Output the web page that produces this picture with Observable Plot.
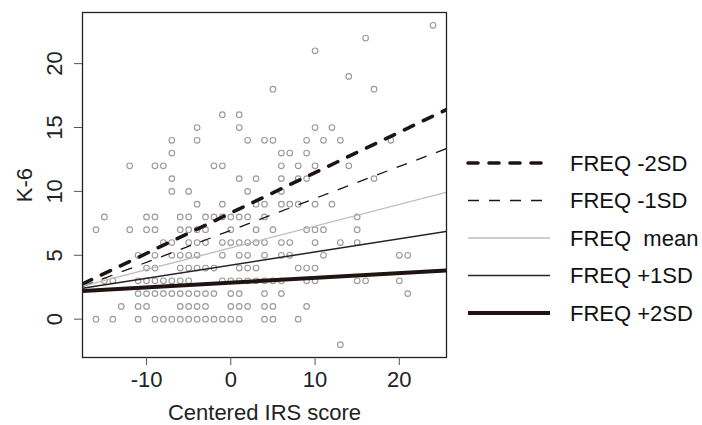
<!DOCTYPE html>
<html>
<head>
<meta charset="utf-8">
<script src="https://cdn.jsdelivr.net/npm/d3@7"></script>
<script src="https://cdn.jsdelivr.net/npm/@observablehq/plot@0.6"></script>
<style>
  body { margin: 0; background: #fff; }
  #chart { width: 702px; height: 425px; }
</style>
</head>
<body>
<div id="chart"></div>
<script>
// K-6 score levels (rows) and the centered IRS scores observed at each level
const k6Levels = [23, 22, 21, 19, 18, 16, 15, 14, 13, 12, 11, 10, 9, 8, 7, 6, 5, 4, 3, 2, 1, 0, -2];
const irsAtLevel = [
  [24],
  [16],
  [10],
  [14],
  [5, 17],
  [-1, 1],
  [-4, 1, 10, 12],
  [-7, -4, 2, 4, 5, 9, 11, 13, 19],
  [-7, 6, 7, 9],
  [-12, -9, -8, -2, -1, 6, 8, 10, 14],
  [-7, 1, 3, 6, 8, 9, 17],
  [-7, -5, 2, 6],
  [-4, -1, 3, 4, 6, 7, 8, 10, 12],
  [-15, -10, -9, -6, -5, -3, -2, -1, 0, 1, 2, 4, 15],
  [-16, -12, -10, -9, -6, -5, -4, -3, 0, 3, 5, 9, 10, 11, 15],
  [-8, -7, -5, -4, -3, -1, 0, 1, 2, 3, 4, 6, 7, 10, 13, 15],
  [-11, -9, -7, -6, -5, -4, -1, 1, 2, 4, 6, 7, 11, 20, 21],
  [-10, -9, -6, -5, -4, -3, -2, 1, 2, 3, 8, 9, 10],
  [-15, -14, -11, -10, -9, -8, -7, -6, -5, -1, 0, 1, 2, 3, 4, 5, 6, 9, 10, 15, 16, 20],
  [-11, -10, -9, -8, -7, -6, -5, -4, -3, -2, 0, 1, 4, 6, 21],
  [-13, -11, -10, -6, -5, -4, -3, 0, 1, 2, 4, 5, 9],
  [-16, -14, -11, -9, -8, -7, -6, -5, -4, -3, -2, -1, 0, 1, 4, 5, 8],
  [13]
];

// Simple slopes of K-6 on centered IRS score at levels of FREQ
const lineLabels = ["FREQ -2SD", "FREQ -1SD", "FREQ  mean", "FREQ +1SD", "FREQ +2SD"];
const intercepts = [8.31, 6.95, 5.58, 4.23, 2.86];
const slopes = [0.316, 0.25, 0.17, 0.103, 0.037];

// Axes
const xTicks = [-10, 0, 10, 20];
const yTicks = [0, 5, 10, 15, 20];
const xDomain = [-17.6, 25.6];
const yDomain = [-3, 24];
const xTitle = "Centered IRS score";
const yTitle = "K-6";

// ---- build tables ----
const points = k6Levels.flatMap((k6, i) => irsAtLevel[i].map(irs => ({irs, k6})));
const lineStyles = {
  "FREQ -2SD": {stroke: "#1e1412", strokeWidth: 3.6, strokeDasharray: "10,11", strokeLinecap: "round"},
  "FREQ -1SD": {stroke: "#1e1412", strokeWidth: 1.3, strokeDasharray: "11,10", strokeLinecap: "butt"},
  "FREQ  mean": {stroke: "#bdbdbd", strokeWidth: 1.4},
  "FREQ +1SD": {stroke: "#2b2120", strokeWidth: 1.5},
  "FREQ +2SD": {stroke: "#1e1412", strokeWidth: 4}
};
const segs = lineLabels.map((label, i) => ({
  label,
  x1: xDomain[0], y1: intercepts[i] + slopes[i] * xDomain[0],
  x2: xDomain[1], y2: intercepts[i] + slopes[i] * xDomain[1]
}));

const font = "'Liberation Sans', Arial, Helvetica, sans-serif";
const fmt = d => String(d); // plain hyphen-minus like the original

const chart = Plot.plot({
  width: 702,
  height: 425,
  marginLeft: 82,
  marginRight: 256,
  marginTop: 12,
  marginBottom: 68,
  style: {fontFamily: font, fontSize: "22px", color: "#222", background: "#fff"},
  x: {domain: xDomain},
  y: {domain: yDomain},
  marks: [
    Plot.dot(points, {x: "irs", y: "k6", r: 2.8, stroke: "#9a9a9a", strokeWidth: 1.15, fill: "none"}),
    ...segs.map(s => Plot.link([s], {x1: "x1", y1: "y1", x2: "x2", y2: "y2", clip: true, ...lineStyles[s.label]})),
    Plot.frame({stroke: "#222", strokeWidth: 1.3}),
    Plot.axisX({ticks: xTicks, tickFormat: fmt, tickSize: 8, tickPadding: 6, stroke: "#555", fontSize: 22,
      label: xTitle, labelAnchor: "center", labelArrow: "none", labelOffset: 62}),
    Plot.axisY({ticks: yTicks, tickFormat: fmt, tickSize: 8, tickPadding: 13, tickRotate: -90, stroke: "#555", fontSize: 22,
      label: yTitle, labelAnchor: "center", labelArrow: "none", labelOffset: 66})
  ]
});

document.getElementById("chart").appendChild(chart);

// legend drawn into the right margin
const svg = d3.select(chart);
const lg = svg.append("g")
  .attr("font-family", font).attr("font-size", 22).attr("fill", "#111")
  .attr("text-anchor", "start");
const legendX0 = 468, legendX1 = 550, legendTextX = 570, legendTop = 163, legendStep = 37.5;
lineLabels.forEach((label, i) => {
  const st = lineStyles[label];
  const yy = legendTop + i * legendStep;
  lg.append("line")
    .attr("x1", legendX0).attr("x2", legendX1).attr("y1", yy).attr("y2", yy)
    .attr("stroke", st.stroke).attr("stroke-width", st.strokeWidth)
    .attr("stroke-dasharray", st.strokeDasharray || null)
    .attr("stroke-linecap", st.strokeLinecap || "butt");
  lg.append("text").attr("x", legendTextX).attr("y", yy).attr("dy", "0.36em")
    .attr("text-anchor", "start")
    .style("white-space", "pre").attr("xml:space", "preserve").text(label);
});
</script>
</body>
</html>
